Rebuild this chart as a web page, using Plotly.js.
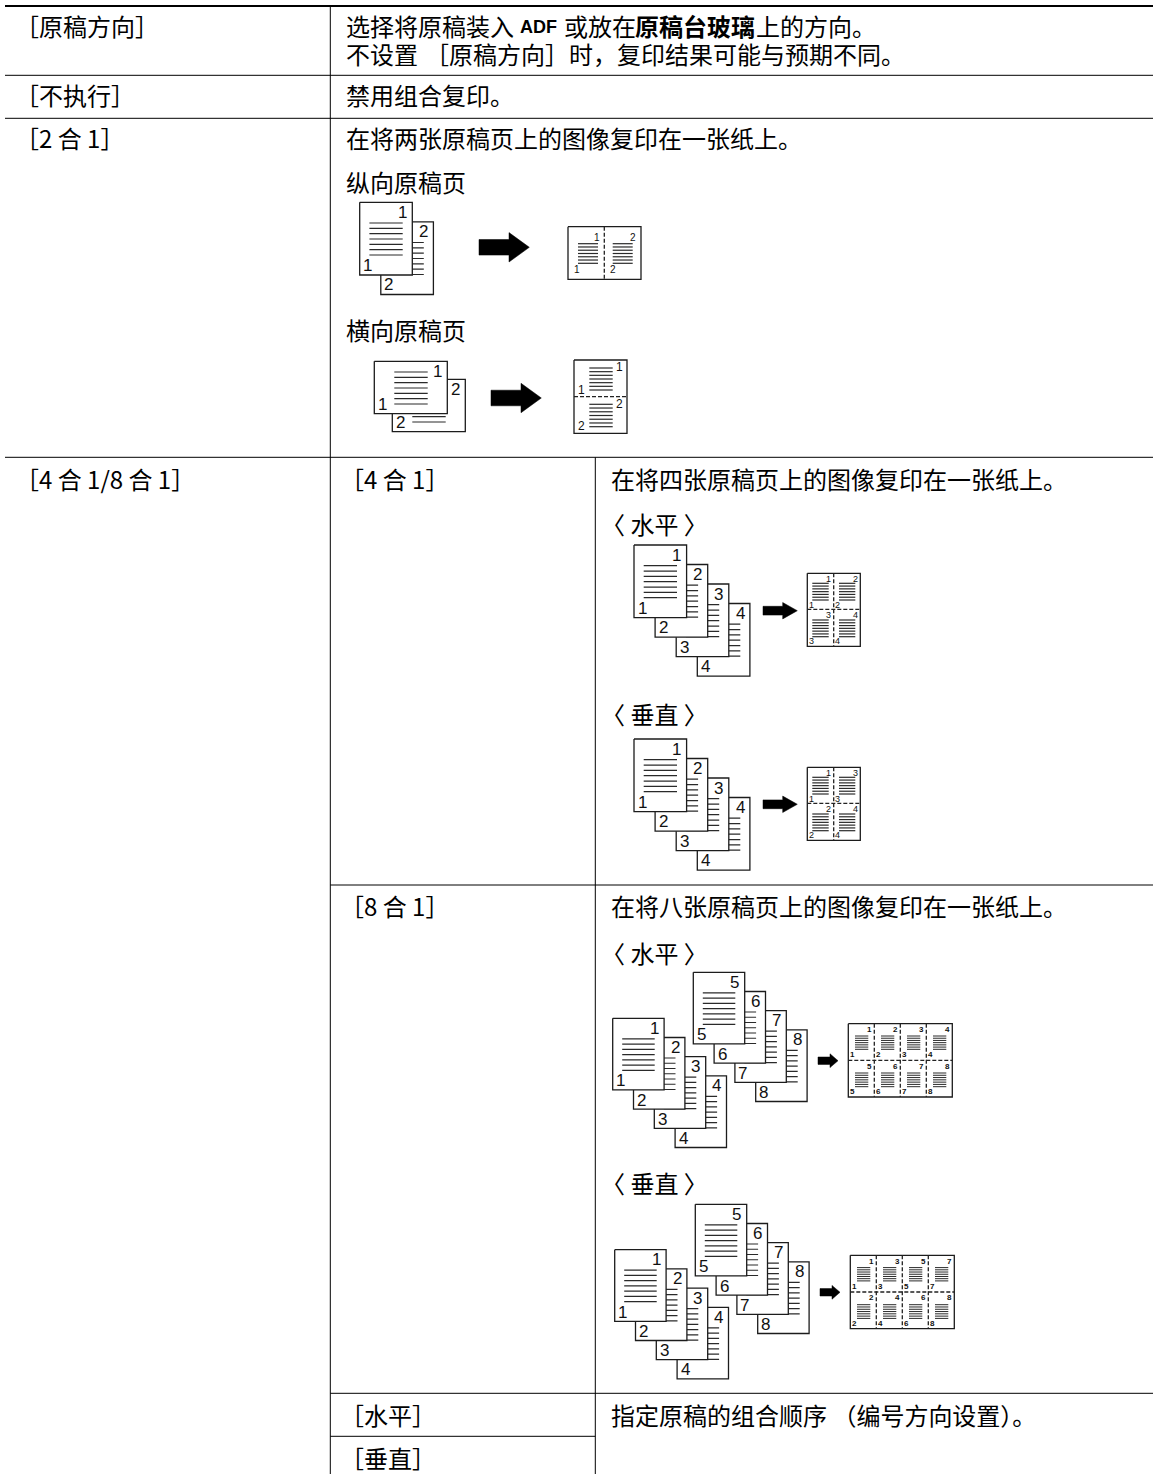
<!DOCTYPE html>
<html><head><meta charset="utf-8">
<script src="https://cdn.plot.ly/plotly-3.0.1.min.js"></script>
<style>html,body{margin:0;padding:0;background:#fff}</style>
</head><body><div id="g" style="width:1153px;height:1474px"></div>
<script>
const CJK = '"Noto Sans CJK SC","Noto Sans",sans-serif';
const SANS = '"Liberation Sans",Arial,sans-serif';

// table rules: x0, y0, x1, y1, width
const tableRules = [
  [5,6,1153,6,2],[5,75.3,1153,75.3,1],[5,118.3,1153,118.3,1],[5,457.3,1153,457.3,1],
  [330.3,885,1153,885,1],[330.3,1393.3,1153,1393.3,1],[330.3,1436.3,595.3,1436.3,1],
  [330.3,6,330.3,1474,1],[595.3,457.3,595.3,1474,1]
];
// table text
const cellText = [
 '［原稿方向］','选择将原稿装入','或放在','上的方向。','不设置','［原稿方向］','时，复印结果可能与预期不同。',
 '［不执行］','禁用组合复印。',
 '［2 合 1］','在将两张原稿页上的图像复印在一张纸上。','纵向原稿页','横向原稿页',
 '［4 合 1/8 合 1］','［4 合 1］','在将四张原稿页上的图像复印在一张纸上。','〈\u00a0水平\u00a0〉','〈\u00a0垂直\u00a0〉',
 '［8 合 1］','在将八张原稿页上的图像复印在一张纸上。','〈\u00a0水平\u00a0〉','〈\u00a0垂直\u00a0〉',
 '［水平］','指定原稿的组合顺序 （编号方向设置）。','［垂直］'];
const cellX = [14,345.4,562.5,754.5,345.4,424,567.5,
  14,345.4,
  14,345.4,345.4,345.4,
  14,339,610.4,599.7,599.7,
  339,610.4,599.7,599.7,
  339,610.4,339];
const cellY = [25.6,25.6,25.6,25.6,53.2,53.2,53.2,
  94.9,94.9,
  137.7,137.7,181.5,329.9,
  478.2,478.2,478.9,523.9,713.9,
  905.5,905.5,952.2,1182.2,
  1414.9,1414.9,1457.2];
const boldText = ['ADF','原稿台玻璃'];
const boldX = [519,633.5];
const boldY = [27.2,25.6];
const boldFamily = [SANS,CJK];
const boldSize = [18,24];

// stacks of originals: x, y, first page number, count, shape index
const stackShapes = [
 {w:52.6,h:72.7,dx:21.1,dy:19.5,lx:[9.7,43],ly:[20.7,52.7],tr:[42.7,10],bl:[8,63],fs:17},
 {w:73,h:52.4,dx:18,dy:18,lx:[20,53.4],ly:[10.7,42.7],tr:[63,9.7],bl:[8.3,43],fs:17},
 {w:51.4,h:71.6,dx:20.8,dy:19.2,lx:[9.5,42],ly:[20.5,52],tr:[41.5,10],bl:[8,62.5],fs:17}
];
const stackX = [359.7,374.3,634,634,612.7,693.3,614.7,695.3];
const stackY = [202.3,361.3,545,739,1018.3,972.3,1249.7,1204.3];
const stackFirst = [1,1,1,1,1,5,1,5];
const stackCount = [2,2,4,4,4,4,4,4];
const stackShape = [0,1,0,0,2,2,2,2];

// output sheets
const sheets = [
 {x:568,y:226.7,w:73,h:52.6,vx:[604.3],hy:[],labels:[[1,2]],
  lx:[[10,30],[8.4,28.4]],ly:[[17,36.6]],tr:[29,10.7],bl:[8.7,42.3],fs:10,bold:false},
 {x:574,y:360,w:53,h:73.3,vx:[],hy:[396.7],labels:[[1],[2]],
  lx:[[15.3,38.7]],ly:[[8,30],[7.6,30]],tr:[45.3,7],bl:[7.7,29.7],fs:12,bold:false},
 {x:807.3,y:573.3,w:53,h:73,vx:[833.7],hy:[609.3],labels:[[1,2],[3,4]],
  lx:[[5,21.4],[5.3,21.6]],ly:[[10,26.7],[10.7,27.4]],tr:[21.5,5.5],bl:[4,31.5],fs:9,bold:false},
 {x:807.3,y:767.3,w:53,h:73,vx:[833.7],hy:[803.3],labels:[[1,3],[2,4]],
  lx:[[5,21.4],[5.3,21.6]],ly:[[10,26.7],[10.7,27.4]],tr:[21.5,5.5],bl:[4,31.5],fs:9,bold:false},
 {x:848.3,y:1023.7,w:104,h:73.3,vx:[874.3,900.3,926.3],hy:[1060.3],labels:[[1,2,3,4],[5,6,7,8]],
  lx:[[6.7,20]],ly:[[12.3,25.6],[12.7,26.4]],tr:[21,5.7],bl:[4,31.2],fs:8,bold:true},
 {x:850.3,y:1255.3,w:104,h:73.3,vx:[876.3,902.3,928.3],hy:[1292],labels:[[1,3,5,7],[2,4,6,8]],
  lx:[[6.7,20]],ly:[[12.3,25.6],[12.7,26.4]],tr:[21,5.7],bl:[4,31.2],fs:8,bold:true}
];
// arrows: tail x, tip x, centre y, head start x, shaft half height, head half height
const arrowX0 = [479,491,763,763,818,820];
const arrowX1 = [529.3,541.3,797.3,797.3,838,840];
const arrowY  = [247.3,398,610.7,804.3,1060.7,1292.3];
const arrowHead = [509,521,782.7,782.7,830,832];
const arrowShaft = [7.8,7.8,4.4,4.4,3.7,3.7];
const arrowHalf = [14.7,14.7,8.2,8.2,6.9,6.9];

const traces = [], notes = [];
const base = {type:'scatter',mode:'lines',hoverinfo:'skip',showlegend:false};
function poly(xs,ys,fill,width,color){
  traces.push(Object.assign({},base,{x:xs,y:ys,fill:fill?'toself':'none',fillcolor:fill||undefined,
    line:{width:width,color:color}}));
}
function hlines(x0,x1,y0,y1,n,width){
  const xs=[],ys=[];
  for(let i=0;i<n;i++){const y=y0+(y1-y0)*i/(n-1);xs.push(x0,x1,null);ys.push(y,y,null);}
  traces.push(Object.assign({},base,{x:xs,y:ys,line:{width:width,color:'#2a2a2a'}}));
}
function rect(x,y,w,h){poly([x,x+w,x+w,x,x],[y,y,y+h,y+h,y],'#fff',1.3,'#1c1c1c');}
function digit(x,y,t,fs,bold){
  notes.push({x:x,y:y,text:bold?'<b>'+t+'</b>':String(t),showarrow:false,xanchor:'center',yanchor:'middle',
    borderpad:0,font:{family:SANS,size:fs,color:'#111'}});
}
tableRules.forEach(r=>traces.push(Object.assign({},base,{x:[r[0],r[2]],y:[r[1],r[3]],line:{width:r[4],color:'#000'}})));
stackX.forEach((sx,i)=>{
  const s=stackShapes[stackShape[i]];
  for(let k=stackCount[i]-1;k>=0;k--){
    const x=sx+k*s.dx,y=stackY[i]+k*s.dy,n=stackFirst[i]+k;
    rect(x,y,s.w,s.h);
    hlines(x+s.lx[0],x+s.lx[1],y+s.ly[0],y+s.ly[1],7,1.2);
    digit(x+s.tr[0],y+s.tr[1],n,s.fs);
    digit(x+s.bl[0],y+s.bl[1],n,s.fs);
  }
});
sheets.forEach(s=>{
  rect(s.x,s.y,s.w,s.h);
  const cx=[s.x].concat(s.vx), cy=[s.y].concat(s.hy);
  s.vx.forEach(v=>traces.push(Object.assign({},base,{x:[v,v],y:[s.y,s.y+s.h],line:{width:1.3,color:'#222',dash:'4px,2px'}})));
  s.hy.forEach(v=>traces.push(Object.assign({},base,{x:[s.x,s.x+s.w],y:[v,v],line:{width:1.3,color:'#222',dash:'4px,2px'}})));
  s.labels.forEach((row,r)=>row.forEach((n,c)=>{
    const lx=s.lx[c]||s.lx[0], ly=s.ly[r]||s.ly[0];
    hlines(cx[c]+lx[0],cx[c]+lx[1],cy[r]+ly[0],cy[r]+ly[1],7,s.fs<9?1:1.2);
    digit(cx[c]+s.tr[0],cy[r]+s.tr[1],n,s.fs,s.bold);
    digit(cx[c]+s.bl[0],cy[r]+s.bl[1],n,s.fs,s.bold);
  }));
});
arrowX0.forEach((x0,i)=>{
  const y=arrowY[i],a=arrowShaft[i],b=arrowHalf[i],h=arrowHead[i];
  poly([x0,h,h,arrowX1[i],h,h,x0,x0],[y-a,y-a,y-b,y,y+b,y+a,y+a,y-a],'#000',0.5,'#000');
});
const textNote=(x,y,t,family,size)=>({x:x,y:y,text:t,showarrow:false,xanchor:'left',yanchor:'middle',
  borderpad:0,font:{family:family,size:size,color:'#000'}});
cellText.forEach((t,i)=>notes.push(textNote(cellX[i],cellY[i],t,CJK,24)));
boldText.forEach((t,i)=>notes.push(textNote(boldX[i],boldY[i],'<b>'+t+'</b>',boldFamily[i],boldSize[i])));

Plotly.newPlot('g',traces,{
  width:1153,height:1474,margin:{l:0,r:0,t:0,b:0},paper_bgcolor:'#fff',plot_bgcolor:'#fff',
  xaxis:{range:[0,1153],visible:false,fixedrange:true},
  yaxis:{range:[1474,0],visible:false,fixedrange:true},
  showlegend:false,annotations:notes
},{displayModeBar:false,staticPlot:true});
</script></body></html>
